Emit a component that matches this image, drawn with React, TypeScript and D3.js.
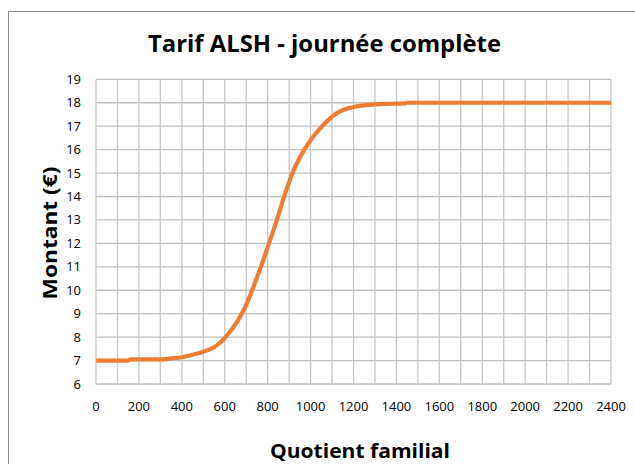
import React from "react";
import * as d3 from "d3";

const quotients = [0, 50, 100, 150, 160, 200, 250, 300, 350, 400, 450, 500, 550, 575, 600, 625, 650, 675, 700, 725, 750, 775, 800, 825, 850, 875, 900, 925, 950, 975, 1000, 1025, 1050, 1075, 1100, 1125, 1150, 1175, 1200, 1250, 1300, 1350, 1400, 1440, 1450, 1500, 1600, 1800, 2000, 2200, 2400];
const montants = [7.0, 7.0, 7.0, 7.0, 7.05, 7.05, 7.05, 7.05, 7.09, 7.14, 7.25, 7.38, 7.57, 7.74, 7.97, 8.24, 8.55, 8.92, 9.38, 9.93, 10.54, 11.17, 11.84, 12.5, 13.2, 13.95, 14.62, 15.2, 15.66, 16.06, 16.4, 16.7, 16.96, 17.2, 17.41, 17.57, 17.68, 17.76, 17.82, 17.89, 17.93, 17.95, 17.96, 17.97, 18.0, 18.0, 18.0, 18.0, 18.0, 18.0, 18.0];
const xTicks = d3.range(0, 2401, 200);
const xGrid = d3.range(0, 2401, 100);
const yTicks = d3.range(6, 20, 1);

const title = "Tarif ALSH - journée complète";
const xTitle = "Quotient familial";
const yTitle = "Montant (€)";

export default function App() {
  const W = 635, H = 464;
  const left = 96, right = 611, top = 79.3, bottom = 384;
  const x = d3.scaleLinear().domain([0, 2400]).range([left, right]);
  const y = d3.scaleLinear().domain([6, 19]).range([bottom, top]);
  const data = quotients.map((q, i) => [q, montants[i]] as [number, number]);
  const line = d3.line<[number, number]>().x(d => x(d[0])).y(d => y(d[1])).curve(d3.curveMonotoneX);
  const font = "'Open Sans', 'DejaVu Sans', sans-serif";
  return (
    <svg width={W} height={H} style={{ position: "absolute", left: 0, top: 0, background: "#fff" }} fontFamily={font}>
      <rect x={0} y={0} width={W} height={H} fill="#fff" />
      <rect x={8.5} y={11.5} width={700} height={600} fill="#fff" stroke="#8a8a8a" strokeWidth={1} />
      <text x={324.5} y={51.5} textAnchor="middle" fontSize={24} fontWeight="bold" fill="#000" textLength={353} lengthAdjust="spacingAndGlyphs">{title}</text>
      <g>
        {xGrid.map(v => (
          <line key={"gx" + v} x1={x(v)} x2={x(v)} y1={top} y2={bottom} stroke="#c8c8c8" strokeWidth={1.3} />
        ))}
        {yTicks.map(v => (
          <line key={"gy" + v} x1={left} x2={right} y1={y(v)} y2={y(v)} stroke="#c0c0c0" strokeWidth={1.3} />
        ))}
      </g>
      <path d={line(data) || ""} fill="none" stroke="#ED7D31" strokeWidth={4.2} strokeLinejoin="round" />
      {yTicks.map(v => (
        <text key={"ty" + v} x={81} y={y(v)} dy="0.35em" textAnchor="end" fontSize={13} fill="#000">{v}</text>
      ))}
      {xTicks.map(v => (
        <text key={"tx" + v} x={x(v)} y={411} textAnchor="middle" fontSize={13} fill="#000">{v}</text>
      ))}
      <text x={360} y={458} textAnchor="middle" fontSize={20} fontWeight="bold" fill="#000" textLength={180} lengthAdjust="spacingAndGlyphs">{xTitle}</text>
      <text transform="translate(57,233) rotate(-90)" textAnchor="middle" fontSize={20} fontWeight="bold" fill="#000" textLength={133} lengthAdjust="spacingAndGlyphs">{yTitle}</text>
    </svg>
  );
}
